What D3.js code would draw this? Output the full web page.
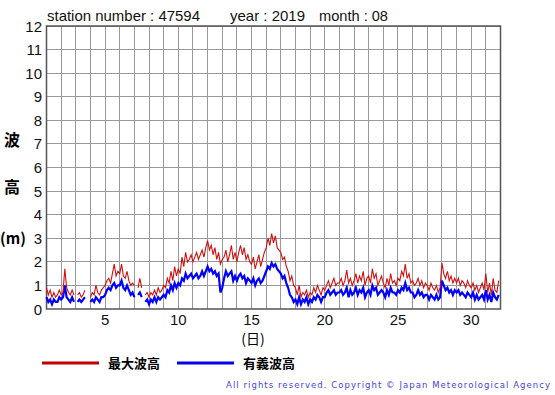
<!DOCTYPE html>
<html>
<head>
<meta charset="utf-8">
<script src="https://cdn.jsdelivr.net/npm/d3@7"></script>
<style>
body { margin: 0; background: #fff; font-family: "Liberation Sans", Arial, sans-serif; }
.grid line { stroke: #9a9a9a; stroke-width: 1; shape-rendering: crispEdges; }
</style>
</head>
<body>
<svg width="555" height="395"></svg>
<script>
// wave heights (m), 8 readings per day (every 3 hours), day 1..31
var maxWave = [
  0.9,0.6,0.8,0.5,0.7,0.5,0.6,0.8,
  0.6,0.7,1.7,0.9,0.7,0.6,0.8,0.6,
  null,0.6,0.7,0.5,0.6,0.8,null,null,
  0.5,0.7,0.6,1.0,0.7,0.6,0.8,0.9,
  1.0,1.2,1.3,1.1,1.5,1.9,1.4,1.6,
  1.5,1.9,1.4,1.3,1.6,1.2,1.0,1.1,
  1.0,null,0.9,1.3,0.9,null,0.6,0.7,
  0.5,0.7,0.6,0.8,0.6,0.9,0.7,0.8,
  1.0,0.9,1.3,1.1,1.6,1.2,1.8,1.4,
  1.7,1.5,2.2,1.8,2.4,2.0,2.1,2.3,
  2.0,2.2,2.4,2.1,2.3,2.5,2.2,2.6,
  2.9,2.5,2.7,2.3,2.6,2.1,2.4,1.9,
  2.1,2.2,2.5,2.0,2.3,2.7,2.1,2.4,
  2.0,2.4,2.7,2.3,2.6,2.1,2.3,2.0,
  1.9,2.2,1.7,2.0,2.3,1.8,2.1,2.4,
  2.6,3.0,2.7,3.2,2.8,3.1,2.6,2.5,
  2.4,2.1,2.2,1.8,1.6,1.2,1.4,1.0,
  0.9,0.6,1.0,0.5,0.7,0.6,0.8,0.5,
  0.7,0.6,0.9,0.7,1.0,0.8,0.6,0.9,
  0.8,1.0,1.2,0.9,1.1,1.3,1.0,1.1,
  1.1,1.3,1.0,1.2,1.65,1.1,1.3,1.0,
  1.2,1.5,1.1,1.4,1.2,1.6,1.0,1.3,
  1.4,1.1,1.7,1.3,1.5,1.0,1.2,1.4,
  1.1,0.9,1.3,1.0,1.5,1.1,1.2,1.0,
  1.3,1.2,1.6,1.4,1.9,1.3,1.5,1.1,
  1.2,1.0,1.1,1.3,1.0,1.2,0.9,1.1,
  1.0,0.8,1.1,0.9,0.8,1.0,0.7,0.9,
  1.95,1.5,1.3,1.6,1.2,1.4,1.1,1.3,
  1.1,1.3,1.0,1.2,1.1,0.9,1.2,1.0,
  0.9,1.1,0.8,1.0,0.7,0.9,1.1,0.8,
  1.5,0.7,1.1,0.6,1.3,0.8,0.7,1.2
];
var sigWave = [
  0.5,0.3,0.4,0.2,0.4,0.3,0.3,0.5,
  0.4,0.5,1.0,0.5,0.4,0.3,0.5,0.3,
  null,0.3,0.4,0.3,0.4,0.5,null,null,
  0.3,0.4,0.3,0.5,0.4,0.3,0.5,0.5,
  0.6,0.8,0.9,0.8,1.0,1.1,0.9,1.0,
  1.0,1.2,0.9,0.8,1.0,0.8,0.6,0.7,
  0.5,null,0.6,0.7,0.5,null,0.3,0.4,
  0.2,0.4,0.3,0.5,0.3,0.5,0.4,0.5,
  0.6,0.5,0.8,0.7,1.0,0.8,1.1,0.9,
  1.1,1.0,1.3,1.2,1.5,1.3,1.4,1.5,
  1.3,1.4,1.5,1.3,1.4,1.6,1.4,1.6,
  1.8,1.6,1.7,1.5,1.6,1.4,1.5,0.7,
  0.9,1.3,1.6,1.4,1.5,1.6,1.2,1.4,
  1.2,1.4,1.5,1.3,1.4,1.1,1.3,1.2,
  1.1,1.3,1.0,1.2,1.3,1.1,1.2,1.4,
  1.6,1.8,1.7,1.95,1.8,1.9,1.7,1.6,
  1.5,1.3,1.4,1.1,0.9,0.6,0.5,0.3,
  0.4,0.2,0.5,0.2,0.4,0.3,0.5,0.2,
  0.4,0.3,0.5,0.4,0.6,0.5,0.3,0.5,
  0.5,0.7,0.8,0.6,0.7,0.8,0.6,0.7,
  0.7,0.8,0.6,0.7,0.9,0.5,0.8,0.6,
  0.7,0.9,0.6,0.8,0.7,0.9,0.5,0.7,
  0.8,0.6,1.0,0.8,0.9,0.6,0.7,0.8,
  0.7,0.5,0.8,0.6,0.9,0.7,0.7,0.6,
  0.8,0.7,0.9,0.8,1.1,0.8,0.9,0.7,
  0.7,0.5,0.6,0.8,0.6,0.7,0.5,0.6,
  0.6,0.4,0.6,0.5,0.4,0.6,0.4,0.5,
  1.2,1.0,0.8,0.9,0.7,0.8,0.6,0.8,
  0.7,0.8,0.6,0.7,0.6,0.5,0.7,0.6,
  0.5,0.7,0.4,0.6,0.4,0.5,0.6,0.4,
  0.8,0.4,0.6,0.3,0.7,0.5,0.4,0.6
];
var xTicks = [5, 10, 15, 20, 25, 30];
var yTicks = [0,1,2,3,4,5,6,7,8,9,10,11,12];
var legendNames = ["最大波高", "有義波高"];

const svg = d3.select("svg");
const plotL = 46.5, plotR = 500.5, plotT = 26, plotB = 309;

const x = d3.scaleLinear().domain([1, 32]).range([plotL, plotR]);
const y = d3.scaleLinear().domain([0, 12]).range([plotB, plotT]);

// grid
const grid = svg.append("g").attr("class", "grid");
grid.selectAll(".vx").data(d3.range(2, 32)).enter().append("line")
    .attr("x1", d => x(d)).attr("x2", d => x(d))
    .attr("y1", plotT).attr("y2", plotB);
grid.selectAll(".hy").data(yTicks.slice(1)).enter().append("line")
    .attr("x1", plotL).attr("x2", plotR)
    .attr("y1", d => y(d)).attr("y2", d => y(d));

// frame
svg.append("rect")
    .attr("x", plotL).attr("y", plotT)
    .attr("width", plotR - plotL).attr("height", plotB - plotT)
    .attr("fill", "none").attr("stroke", "#555").attr("stroke-width", 1.5);

function series(arr) {
    return arr.map((v, i) => ({ t: 1 + i / 8, v: v }));
}
const line = d3.line()
    .defined(d => d.v != null)
    .x(d => x(d.t)).y(d => y(d.v));

svg.append("path").datum(series(sigWave))
    .attr("d", line).attr("fill", "none")
    .attr("stroke", "#0000ff").attr("stroke-width", 2.2);
svg.append("path").datum(series(maxWave))
    .attr("d", line).attr("fill", "none")
    .attr("stroke", "#d01010").attr("stroke-width", 1.1);

// y axis labels
svg.append("g").selectAll("text").data(yTicks).enter().append("text")
    .attr("x", 42).attr("y", d => y(d) + 5.5)
    .attr("text-anchor", "end")
    .style("font-size", "15px").attr("fill", "#111")
    .text(d => d);

// x axis labels
svg.append("g").selectAll("text").data(xTicks).enter().append("text")
    .attr("x", d => x(d)).attr("y", 325)
    .attr("text-anchor", "middle")
    .style("font-size", "15px").attr("fill", "#111")
    .text(d => d);

const cjk = '"Noto Sans CJK JP", sans-serif';
svg.append("text").attr("x", 253).attr("y", 344).attr("text-anchor", "middle")
    .style("font-family", cjk).style("font-size", "14px").text("(日)");

// y title
svg.append("text").attr("x", 12).attr("y", 146).attr("text-anchor", "middle")
    .style("font-family", cjk).style("font-size", "16px").style("font-weight", "bold").text("波");
svg.append("text").attr("x", 12).attr("y", 193).attr("text-anchor", "middle")
    .style("font-family", cjk).style("font-size", "16px").style("font-weight", "bold").text("高");
svg.append("text").attr("x", 13).attr("y", 244).attr("text-anchor", "middle")
    .style("font-family", cjk).style("font-size", "15px").style("font-weight", "bold").text("(m)");

// title
function titleText(tx, str, len) {
    svg.append("text").attr("x", tx).attr("y", 21)
        .style("font-size", "15px").attr("fill", "#111")
        .attr("textLength", len).attr("lengthAdjust", "spacingAndGlyphs")
        .text(str);
}
titleText(47, "station number : 47594", 153);
titleText(230, "year : 2019", 75);
titleText(319, "month : 08", 69);

// legend
const legendColors = ["#c00000", "#0000ee"];
const lx = [42, 177];
legendNames.forEach((name, i) => {
    svg.append("line")
        .attr("x1", lx[i]).attr("x2", lx[i] + 57)
        .attr("y1", 363).attr("y2", 363)
        .attr("stroke", legendColors[i]).attr("stroke-width", 3);
    svg.append("text").attr("x", lx[i] + 66).attr("y", 368)
        .style("font-family", cjk).style("font-size", "13px").style("font-weight", "bold")
        .text(name);
});

// footer
svg.append("text").attr("x", 226).attr("y", 388)
    .style("font-family", '"DejaVu Sans", sans-serif').style("font-size", "8.5px")
    .attr("textLength", 324).attr("lengthAdjust", "spacing")
    .attr("fill", "#4444dd")
    .text("All rights reserved. Copyright © Japan Meteorological Agency");
</script>
</body>
</html>
